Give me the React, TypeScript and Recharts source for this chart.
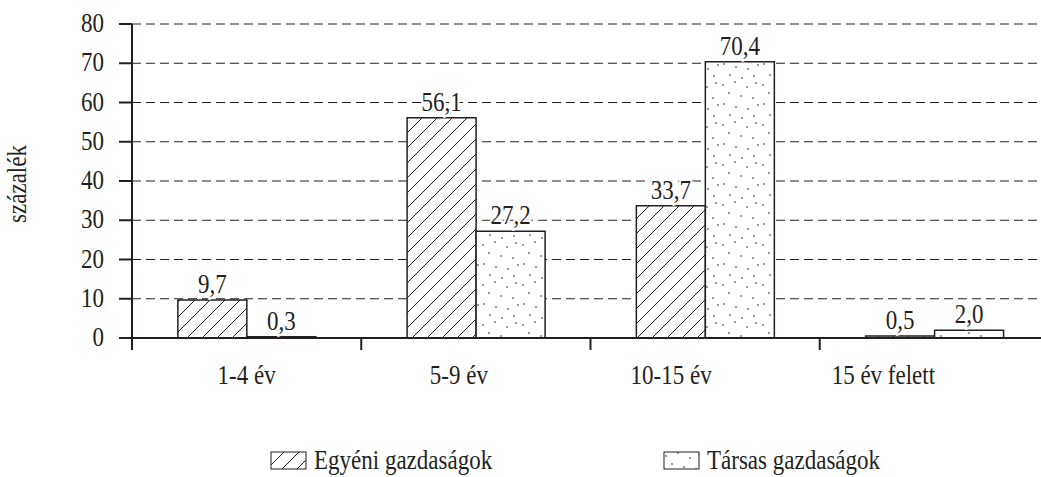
import React from 'react';
import { BarChart, Bar, XAxis, YAxis, CartesianGrid, Legend, LabelList } from 'recharts';

const categories = ['1-4 év', '5-9 év', '10-15 év', '15 év felett'];
const egyeni = [9.7, 56.1, 33.7, 0.5];
const tarsas = [0.3, 27.2, 70.4, 2.0];
const yTicks = [0, 10, 20, 30, 40, 50, 60, 70, 80];
const seriesNames = ['Egyéni gazdaságok', 'Társas gazdaságok'];

const data = categories.map((name, i) => ({ name, egyeni: egyeni[i], tarsas: tarsas[i] }));

const FONT = 'Liberation Serif, serif';
const INK = '#231f20';
const STRETCH = 1.15; // source text is a bit taller than plain Times

const fmt = (v: any) => Number(v).toFixed(1).replace('.', ',');

// dot positions inside one 40x40 tile of the "Társas" fill
const dotSpots = [
  [3, 5], [15, 2], [27, 7], [36, 3], [9, 13], [21, 16], [33, 18],
  [4, 24], [16, 27], [28, 29], [38, 25], [10, 35], [22, 38], [34, 36],
];

const Patterns = ({ suffix }: { suffix: string }) => (
  <defs>
    <pattern id={`hatch${suffix}`} width="15" height="15" patternUnits="userSpaceOnUse">
      <rect width="15" height="15" fill="#fff" />
      <path d="M0,15 L15,0 M-4,4 L4,-4 M11,19 L19,11" stroke={INK} strokeWidth="1" />
    </pattern>
    <pattern id={`dots${suffix}`} width="40" height="40" patternUnits="userSpaceOnUse">
      <rect width="40" height="40" fill="#fff" />
      {dotSpots.map(([cx, cy], i) => (
        <circle key={i} cx={cx} cy={cy} r="0.8" fill={INK} />
      ))}
    </pattern>
  </defs>
);

// text drawn with its baseline at (x, y), slightly stretched vertically
const TallText = ({ x, y, anchor = 'middle', rotate = 0, halo = false, children }: any) => (
  <text
    transform={`translate(${x},${y}) rotate(${rotate}) scale(1,${STRETCH})`}
    textAnchor={anchor}
    fontFamily={FONT}
    fontSize={23}
    fill={INK}
    stroke={halo ? '#fff' : 'none'}
    strokeWidth={halo ? 4 : 0}
    paintOrder="stroke"
  >
    {children}
  </text>
);

const CategoryTick = (props: any) => {
  const { x, y, payload, index } = props;
  const half = payload.offset || 0;
  return (
    <g>
      <line x1={x - half} x2={x - half} y1={y - 8} y2={y + 4} stroke={INK} strokeWidth={2} />
      <TallText x={x - 17 * index} y={y + 38}>{payload.value}</TallText>
    </g>
  );
};

const ValueTick = (props: any) => {
  const { x, y, payload } = props;
  return <TallText x={x} y={y + 8} anchor="end">{payload.value}</TallText>;
};

const ValueLabel = (props: any) => {
  const { x, y, width, value } = props;
  return <TallText x={x + width / 2} y={y - 7} halo>{fmt(value)}</TallText>;
};

const AxisTitle = (props: any) => {
  const vb = props.viewBox || { y: 0, height: 0 };
  return <TallText x={26} y={vb.y + vb.height / 2 + 3} rotate={-90}>százalék</TallText>;
};

const LegendContent = () => (
  <div style={{ display: 'flex', paddingLeft: 270, paddingTop: 12, fontFamily: FONT, fontSize: 23, color: INK }}>
    {seriesNames.map((name, i) => (
      <div key={name} style={{ display: 'flex', alignItems: 'center', width: i === 0 ? 393 : 'auto' }}>
        <svg width={38} height={20} style={{ marginRight: 6 }}>
          <Patterns suffix={`L${i}`} />
          <rect x={1} y={1} width={35} height={17} fill={`url(#${i === 0 ? 'hatch' : 'dots'}L${i})`} stroke={INK} strokeWidth={1} />
        </svg>
        <span style={{ display: 'inline-block', transform: `scaleY(${STRETCH})` }}>{name}</span>
      </div>
    ))}
  </div>
);

export default function App() {
  return (
    <div style={{ position: 'absolute', left: 0, top: 0, width: 1041, height: 477, overflow: 'hidden', background: '#fff' }}>
      <BarChart
        width={1060}
        height={477}
        data={data}
        margin={{ top: 24, right: 11, bottom: 0, left: 0 }}
        barCategoryGap="20%"
        barGap={0}
      >
        <Patterns suffix="" />
        <CartesianGrid vertical={false} stroke={INK} strokeDasharray="9 5" strokeWidth={1} />
        <XAxis
          dataKey="name"
          height={101}
          axisLine={{ stroke: INK, strokeWidth: 2 }}
          tickLine={false}
          tick={<CategoryTick />}
          interval={0}
        />
        <YAxis
          width={132}
          domain={[0, 80]}
          ticks={yTicks}
          interval={0}
          axisLine={{ stroke: INK, strokeWidth: 2 }}
          tickLine={{ stroke: INK, strokeWidth: 2 }}
          tickSize={13}
          tickMargin={15}
          tick={<ValueTick />}
          label={<AxisTitle />}
        />
        <Legend verticalAlign="bottom" content={<LegendContent />} wrapperStyle={{ bottom: 3 }} />
        <Bar dataKey="egyeni" name={seriesNames[0]} fill="url(#hatch)" stroke={INK} strokeWidth={1.5} isAnimationActive={false}>
          <LabelList dataKey="egyeni" content={<ValueLabel />} />
        </Bar>
        <Bar dataKey="tarsas" name={seriesNames[1]} fill="url(#dots)" stroke={INK} strokeWidth={1.5} isAnimationActive={false}>
          <LabelList dataKey="tarsas" content={<ValueLabel />} />
        </Bar>
      </BarChart>
    </div>
  );
}
